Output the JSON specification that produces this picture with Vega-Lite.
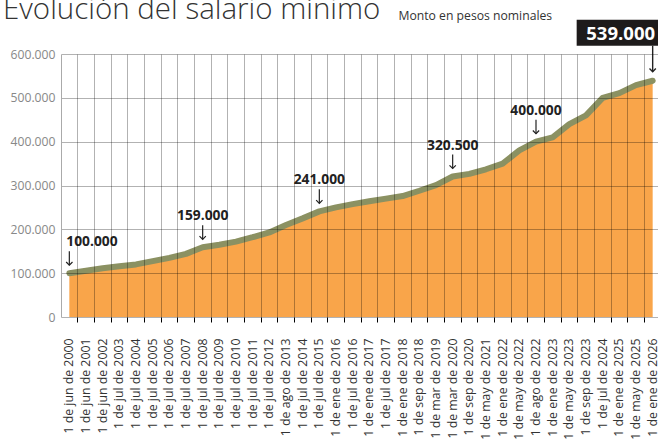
{
  "$schema": "https://vega.github.io/schema/vega-lite/v6.json",
  "width": 600,
  "height": 263,
  "autosize": "none",
  "padding": {"left": 61, "top": 54, "right": 0, "bottom": 122},
  "background": "white",
  "title": {
    "text": "Evolución del salario mínimo",
    "anchor": "start",
    "frame": "group",
    "dx": -58,
    "offset": -39,
    "baseline": "alphabetic",
    "fontSize": 29.5,
    "fontWeight": 300,
    "font": "Open Sans",
    "color": "#333333"
  },
  "data": {
    "values": [
      {"fecha": "1 de jun de 2000", "valor": 100000},
      {"fecha": "1 de jun de 2001", "valor": 105500},
      {"fecha": "1 de jun de 2002", "valor": 111200},
      {"fecha": "1 de jul de 2003", "valor": 115648},
      {"fecha": "1 de jul de 2004", "valor": 120000},
      {"fecha": "1 de jul de 2005", "valor": 127500},
      {"fecha": "1 de jul de 2006", "valor": 135000},
      {"fecha": "1 de jul de 2007", "valor": 144000},
      {"fecha": "1 de jul de 2008", "valor": 159000},
      {"fecha": "1 de jul de 2009", "valor": 165000},
      {"fecha": "1 de jul de 2010", "valor": 172000},
      {"fecha": "1 de jul de 2011", "valor": 182000},
      {"fecha": "1 de jul de 2012", "valor": 193000},
      {"fecha": "1 de ago de 2013", "valor": 210000},
      {"fecha": "1 de jul de 2014", "valor": 225000},
      {"fecha": "1 de jul de 2015", "valor": 241000},
      {"fecha": "1 de ene de 2016", "valor": 250000},
      {"fecha": "1 de jul de 2016", "valor": 257500},
      {"fecha": "1 de ene de 2017", "valor": 264000},
      {"fecha": "1 de jul de 2017", "valor": 270000},
      {"fecha": "1 de ene de 2018", "valor": 276000},
      {"fecha": "1 de sep de 2018", "valor": 288000},
      {"fecha": "1 de mar de 2019", "valor": 301000},
      {"fecha": "1 de mar de 2020", "valor": 320500},
      {"fecha": "1 de sep de 2020", "valor": 326500},
      {"fecha": "1 de may de 2021", "valor": 337000},
      {"fecha": "1 de ene de 2022", "valor": 350000},
      {"fecha": "1 de may de 2022", "valor": 380000},
      {"fecha": "1 de ago de 2022", "valor": 400000},
      {"fecha": "1 de ene de 2023", "valor": 410000},
      {"fecha": "1 de may de 2023", "valor": 440000},
      {"fecha": "1 de sep de 2023", "valor": 460000},
      {"fecha": "1 de jul de 2024", "valor": 500000},
      {"fecha": "1 de ene de 2025", "valor": 510636},
      {"fecha": "1 de may de 2025", "valor": 529000},
      {"fecha": "1 de ene de 2026", "valor": 539000}
    ]
  },
  "encoding": {
    "x": {
      "field": "fecha",
      "type": "ordinal",
      "sort": null,
      "bandPosition": 0.5,
      "scale": {"type": "band", "paddingInner": 0, "paddingOuter": 0},
      "axis": {
        "title": null,
        "labelAngle": -90,
        "labelPadding": 16,
        "labelFontSize": 12.3,
        "labelColor": "#333333",
        "labelOverlap": false,
        "labelBound": false,
        "bandPosition": 1,
        "tickExtra": false,
        "ticks": true,
        "tickColor": "#000000",
        "tickSize": 5,
        "grid": true,
        "gridColor": "#000000",
        "gridOpacity": 0.3,
        "domain": false,
        "zindex": 1
      }
    },
    "y": {
      "field": "valor",
      "type": "quantitative",
      "scale": {"domain": [0, 600000]},
      "axis": {
        "title": "Monto en pesos nominales",
        "titleAngle": 0,
        "titleAlign": "left",
        "titleBaseline": "alphabetic",
        "titleX": 337,
        "titleY": -35,
        "titleFontSize": 12.2,
        "titleFontWeight": "normal",
        "titleColor": "#333333",
        "values": [0, 100000, 200000, 300000, 400000, 500000, 600000],
        "format": ",.0f",
        "labelFontSize": 12.2,
        "labelColor": "#888888",
        "labelPadding": 6,
        "ticks": false,
        "tickSize": 0,
        "domain": true,
        "domainColor": "#aaaaaa",
        "grid": true,
        "gridColor": "#000000",
        "gridOpacity": 0.3,
        "zindex": 1
      }
    }
  },
  "layer": [
    {"mark": {"type": "area", "color": "#F9A54A", "opacity": 1}},
    {"mark": {"type": "line", "color": "#8b9162", "strokeWidth": 6, "strokeCap": "round", "strokeJoin": "round"}},
    {
      "transform": [{"filter": {"field": "valor", "oneOf": [100000, 159000, 241000, 320500, 400000]}}],
      "mark": {"type": "rule", "color": "#222222", "strokeWidth": 1.2, "yOffset": -8, "y2Offset": -22},
      "encoding": {"y2": {"field": "valor"}}
    },
    {
      "transform": [{"filter": {"field": "valor", "oneOf": [100000, 159000, 241000, 320500, 400000]}}],
      "mark": {"type": "point", "shape": "M-1,-1L0,0L1,-1", "filled": false, "size": 40, "strokeWidth": 1.2, "color": "#222222", "opacity": 1, "yOffset": -8}
    },
    {
      "transform": [{"filter": {"field": "valor", "oneOf": [159000, 241000, 320500, 400000]}}],
      "mark": {"type": "text", "baseline": "alphabetic", "align": "center", "dy": -27, "fontSize": 13.8, "fontWeight": "bold", "color": "#222222"},
      "encoding": {"text": {"field": "valor", "type": "quantitative", "format": ","}}
    },
    {
      "transform": [{"filter": {"field": "valor", "equal": 100000}}],
      "mark": {"type": "text", "baseline": "alphabetic", "align": "left", "dx": -3, "dy": -27, "fontSize": 13.8, "fontWeight": "bold", "color": "#222222"},
      "encoding": {"text": {"field": "valor", "type": "quantitative", "format": ","}}
    },
    {
      "transform": [{"filter": {"field": "valor", "equal": 539000}}],
      "mark": {"type": "rule", "color": "#222222", "strokeWidth": 1.4, "yOffset": -9, "y2Offset": -35},
      "encoding": {"y2": {"field": "valor"}}
    },
    {
      "transform": [{"filter": {"field": "valor", "equal": 539000}}],
      "mark": {"type": "point", "shape": "M-1,-1L0,0L1,-1", "filled": false, "size": 40, "strokeWidth": 1.4, "color": "#222222", "opacity": 1, "yOffset": -9}
    },
    {
      "transform": [{"filter": {"field": "valor", "equal": 539000}}],
      "mark": {"type": "point", "shape": "M-1,-0.31L1,-0.31L1,0.31L-1,0.31Z", "size": 7056, "filled": true, "color": "#1e1b1b", "opacity": 1, "xOffset": -34, "yOffset": -48}
    },
    {
      "transform": [{"filter": {"field": "valor", "equal": 539000}}],
      "mark": {"type": "text", "baseline": "middle", "align": "center", "dx": -32, "dy": -47, "fontSize": 18.5, "fontWeight": "bold", "color": "#ffffff"},
      "encoding": {"text": {"field": "valor", "type": "quantitative", "format": ","}}
    }
  ],
  "config": {
    "font": "Open Sans",
    "view": {"stroke": null},
    "locale": {"number": {"decimal": ",", "thousands": ".", "grouping": [3], "currency": ["$", ""]}}
  }
}
